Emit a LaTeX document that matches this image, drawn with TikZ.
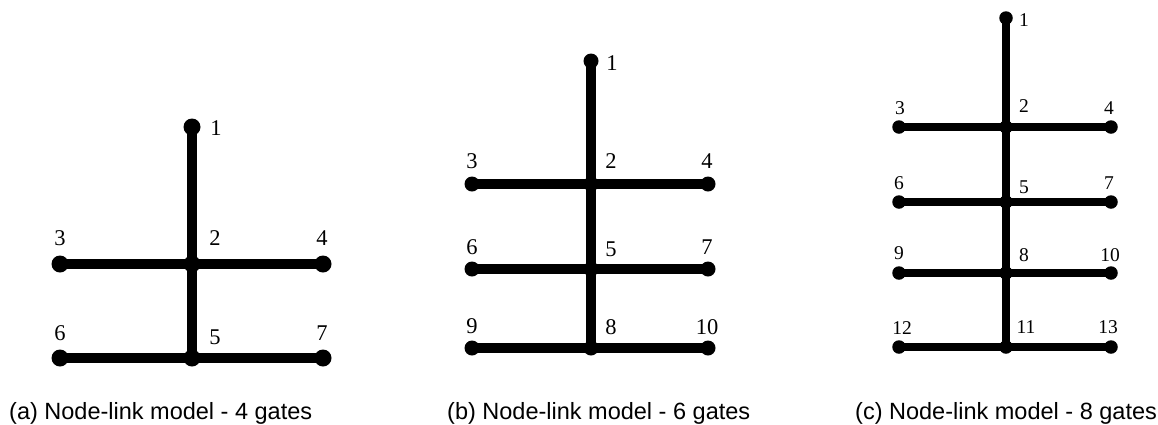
\documentclass[tikz,border=0pt]{standalone}
\usepackage{fontspec}
\setmainfont{Liberation Serif}
\newfontfamily\capfont{Liberation Sans}
\begin{document}
\begin{tikzpicture}[x=1pt,y=-1pt,
  dotA/.style={circle,fill=black,inner sep=0pt,minimum size=17pt},
  dotB/.style={circle,fill=black,inner sep=0pt,minimum size=15pt},
  dotC/.style={circle,fill=black,inner sep=0pt,minimum size=13.5pt},
  linkA/.style={line width=10.5pt},
  linkB/.style={line width=9.5pt},
  linkC/.style={line width=8.2pt},
  labA/.style={inner sep=0pt,font=\fontsize{22.5}{22.5}\selectfont},
  labC/.style={inner sep=0pt,font=\fontsize{19.5}{19.5}\selectfont},
  captext/.style={anchor=base west,inner sep=0pt,font=\capfont\fontsize{23.5}{24}\selectfont}]
\useasboundingbox (0,0) rectangle (1158,424);
% ---------- panel (a)
\node[dotA] (a1) at (192,127) {};
\node[dotA] (a2) at (192,264) {};
\node[dotA] (a5) at (192,358) {};
\node[dotA] (a3) at (60,264) {};
\node[dotA] (a4) at (323,264) {};
\node[dotA] (a6) at (60,358) {};
\node[dotA] (a7) at (323,358) {};
\draw[linkA] (a1.center) -- (a2.center) -- (a5.center);
\draw[linkA] (a3.center) -- (a2.center) -- (a4.center);
\draw[linkA] (a6.center) -- (a5.center) -- (a7.center);
\node[labA] (la1) at (216,128) {1};
\node[labA] (la2) at (215,238) {2};
\node[labA] (la3) at (60,238) {3};
\node[labA] (la4) at (322,238) {4};
\node[labA] (la5) at (215,337) {5};
\node[labA] (la6) at (60,333) {6};
\node[labA] (la7) at (322,333) {7};
\node[captext] (capa) at (9,419) {(a) Node-link model - 4 gates};
% ---------- panel (b)
\node[dotB] (b1) at (591,61) {};
\node[dotB] (b2) at (591,184) {};
\node[dotB] (b5) at (591,269) {};
\node[dotB] (b8) at (591,348) {};
\node[dotB] (b3) at (472,184) {};
\node[dotB] (b4) at (708,184) {};
\node[dotB] (b6) at (472,269) {};
\node[dotB] (b7) at (708,269) {};
\node[dotB] (b9) at (472,348) {};
\node[dotB] (b10) at (708,348) {};
\draw[linkB] (b1.center) -- (b2.center) -- (b5.center) -- (b8.center);
\draw[linkB] (b3.center) -- (b2.center) -- (b4.center);
\draw[linkB] (b6.center) -- (b5.center) -- (b7.center);
\draw[linkB] (b9.center) -- (b8.center) -- (b10.center);
\node[labA] (lb1) at (612,63) {1};
\node[labA] (lb2) at (611,161) {2};
\node[labA] (lb3) at (472,161) {3};
\node[labA] (lb4) at (707,161) {4};
\node[labA] (lb5) at (611,249) {5};
\node[labA] (lb6) at (472,247) {6};
\node[labA] (lb7) at (707,247) {7};
\node[labA] (lb8) at (611,327) {8};
\node[labA] (lb9) at (472,326) {9};
\node[labA] (lb10) at (707,327) {10};
\node[captext] (capb) at (447,419) {(b) Node-link model - 6 gates};
% ---------- panel (c)
\node[dotC] (c1) at (1006,18) {};
\node[dotC] (c2) at (1006,127) {};
\node[dotC] (c5) at (1006,202) {};
\node[dotC] (c8) at (1006,273) {};
\node[dotC] (c11) at (1006,347) {};
\node[dotC] (c3) at (899,127) {};
\node[dotC] (c4) at (1111,127) {};
\node[dotC] (c6) at (899,202) {};
\node[dotC] (c7) at (1111,202) {};
\node[dotC] (c9) at (899,273) {};
\node[dotC] (c10) at (1111,273) {};
\node[dotC] (c12) at (899,347) {};
\node[dotC] (c13) at (1111,347) {};
\draw[linkC] (c1.center) -- (c2.center) -- (c5.center) -- (c8.center) -- (c11.center);
\draw[linkC] (c3.center) -- (c2.center) -- (c4.center);
\draw[linkC] (c6.center) -- (c5.center) -- (c7.center);
\draw[linkC] (c9.center) -- (c8.center) -- (c10.center);
\draw[linkC] (c12.center) -- (c11.center) -- (c13.center);
\node[labC] (lc1) at (1024,20) {1};
\node[labC] (lc2) at (1024,106) {2};
\node[labC] (lc3) at (900,108) {3};
\node[labC] (lc4) at (1109,108) {4};
\node[labC] (lc5) at (1024,187) {5};
\node[labC] (lc6) at (899,183) {6};
\node[labC] (lc7) at (1109,183) {7};
\node[labC] (lc8) at (1024,255) {8};
\node[labC] (lc9) at (899,253) {9};
\node[labC] (lc10) at (1110,255) {10};
\node[labC] (lc11) at (1026,327) {11};
\node[labC] (lc12) at (902,328) {12};
\node[labC] (lc13) at (1108,327) {13};
\node[captext] (capc) at (855,419) {(c) Node-link model - 8 gates};
\end{tikzpicture}
\end{document}
